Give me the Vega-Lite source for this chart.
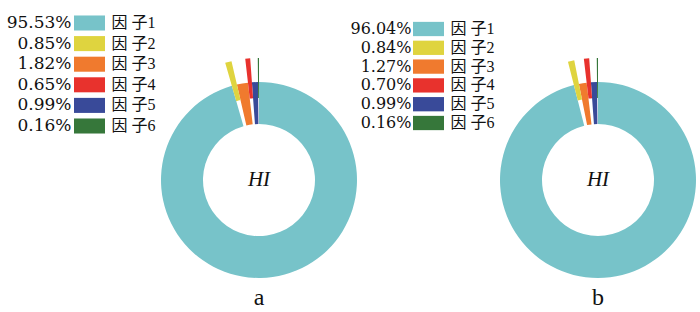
{
  "$schema": "https://vega.github.io/schema/vega-lite/v6.json",
  "padding": {"left": 6, "top": 14, "right": 0, "bottom": 0},
  "background": "white",
  "config": {
    "view": {"stroke": null},
    "axis": {"domain": false, "ticks": false, "grid": false, "labelColor": "#111111"},
    "title": {"color": "#111111"}
  },
  "datasets": {
    "d": [
      {"panel": "a", "k": 1, "name": "因 子1", "share": 0.9553},
      {"panel": "a", "k": 2, "name": "因 子2", "share": 0.0085},
      {"panel": "a", "k": 3, "name": "因 子3", "share": 0.0182},
      {"panel": "a", "k": 4, "name": "因 子4", "share": 0.0065},
      {"panel": "a", "k": 5, "name": "因 子5", "share": 0.0099},
      {"panel": "a", "k": 6, "name": "因 子6", "share": 0.0016},
      {"panel": "b", "k": 1, "name": "因 子1", "share": 0.9604},
      {"panel": "b", "k": 2, "name": "因 子2", "share": 0.0084},
      {"panel": "b", "k": 3, "name": "因 子3", "share": 0.0127},
      {"panel": "b", "k": 4, "name": "因 子4", "share": 0.0070},
      {"panel": "b", "k": 5, "name": "因 子5", "share": 0.0099},
      {"panel": "b", "k": 6, "name": "因 子6", "share": 0.0016}
    ],
    "center": [{"label": "HI"}]
  },
  "bounds": "flush",
  "spacing": 54,
  "hconcat": [
    {
      "data": {"name": "d"},
      "transform": [{"filter": "datum.panel === 'a'"}],
      "width": 31,
      "height": 252,
      "encoding": {
        "y": {"field": "name", "type": "ordinal", "sort": {"field": "k", "op": "min"},
          "scale": {"range": [-41.3, 82.3], "paddingInner": 0.27, "paddingOuter": 0.135},
          "axis": {"orient": "right", "title": null, "labelFont": "Liberation Serif, Noto Sans CJK SC", "labelFontSize": 16, "labelPadding": 6}}
      },
      "layer": [
        {
          "mark": {"type": "rect"},
          "encoding": {
            "color": {"field": "name", "type": "nominal", "legend": null,
              "scale": {"domain": ["因 子1", "因 子2", "因 子3", "因 子4", "因 子5", "因 子6"],
                "range": ["#77c3c9", "#dfd43f", "#f07a2e", "#e8322d", "#394a99", "#36773a"]}}
          }
        },
        {
          "mark": {"type": "text", "align": "right", "dx": -18, "font": "DejaVu Serif", "fontSize": 17, "color": "#111111"},
          "encoding": {
            "text": {"field": "share", "type": "quantitative", "format": ".2%"}
          }
        }
      ]
    },
    {
      "data": {"name": "d"},
      "transform": [
        {"filter": "datum.panel === 'a'"},
        {"stack": "share", "groupby": [], "sort": [{"field": "k", "order": "ascending"}], "as": ["t0", "t1"]}
      ],
      "width": 200,
      "height": 252,
      "title": {"text": "a", "orient": "bottom", "font": "Liberation Serif", "fontSize": 24, "fontWeight": "normal", "offset": -20},
      "layer": [
        {
          "transform": [{"filter": "datum.k % 2 === 1"}],
          "mark": {"type": "arc", "radius": 98, "radius2": 56},
          "encoding": {
            "theta": {"field": "t0", "type": "quantitative", "scale": {"domain": [0, 1]}},
            "theta2": {"field": "t1"},
            "color": {"field": "name", "type": "nominal", "legend": null}
          }
        },
        {
          "transform": [{"filter": "datum.k % 2 === 0"}],
          "mark": {"type": "arc", "radius": 122, "radius2": 82},
          "encoding": {
            "theta": {"field": "t0", "type": "quantitative", "scale": {"domain": [0, 1]}},
            "theta2": {"field": "t1"},
            "color": {"field": "name", "type": "nominal", "legend": null}
          }
        },
        {
          "data": {"name": "center"},
          "mark": {"type": "text", "font": "Liberation Serif", "fontStyle": "italic", "fontSize": 21, "color": "#111111"},
          "encoding": {"text": {"field": "label"}}
        }
      ]
    },
    {
      "data": {"name": "d"},
      "transform": [{"filter": "datum.panel === 'b'"}],
      "width": 31,
      "height": 252,
      "encoding": {
        "y": {"field": "name", "type": "ordinal", "sort": {"field": "k", "op": "min"},
          "scale": {"range": [-34.4, 78.4], "paddingInner": 0.24, "paddingOuter": 0.12},
          "axis": {"orient": "right", "title": null, "labelFont": "Liberation Serif, Noto Sans CJK SC", "labelFontSize": 16, "labelPadding": 6}}
      },
      "layer": [
        {
          "mark": {"type": "rect"},
          "encoding": {
            "color": {"field": "name", "type": "nominal", "legend": null}
          }
        },
        {
          "mark": {"type": "text", "align": "right", "dx": -17, "font": "DejaVu Serif", "fontSize": 16, "color": "#111111"},
          "encoding": {
            "text": {"field": "share", "type": "quantitative", "format": ".2%"}
          }
        }
      ]
    },
    {
      "data": {"name": "d"},
      "transform": [
        {"filter": "datum.panel === 'b'"},
        {"stack": "share", "groupby": [], "sort": [{"field": "k", "order": "ascending"}], "as": ["t0", "t1"]}
      ],
      "width": 200,
      "height": 252,
      "title": {"text": "b", "orient": "bottom", "font": "Liberation Serif", "fontSize": 24, "fontWeight": "normal", "offset": -20},
      "layer": [
        {
          "transform": [{"filter": "datum.k % 2 === 1"}],
          "mark": {"type": "arc", "radius": 98, "radius2": 56},
          "encoding": {
            "theta": {"field": "t0", "type": "quantitative", "scale": {"domain": [0, 1]}},
            "theta2": {"field": "t1"},
            "color": {"field": "name", "type": "nominal", "legend": null}
          }
        },
        {
          "transform": [{"filter": "datum.k % 2 === 0"}],
          "mark": {"type": "arc", "radius": 122, "radius2": 82},
          "encoding": {
            "theta": {"field": "t0", "type": "quantitative", "scale": {"domain": [0, 1]}},
            "theta2": {"field": "t1"},
            "color": {"field": "name", "type": "nominal", "legend": null}
          }
        },
        {
          "data": {"name": "center"},
          "mark": {"type": "text", "font": "Liberation Serif", "fontStyle": "italic", "fontSize": 21, "color": "#111111"},
          "encoding": {"text": {"field": "label"}}
        }
      ]
    }
  ]
}
